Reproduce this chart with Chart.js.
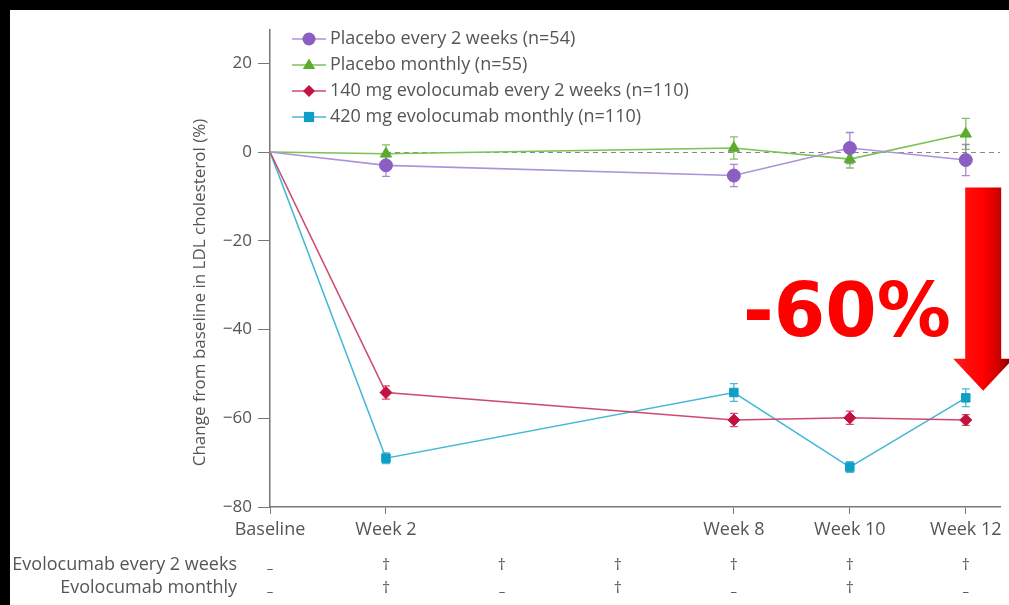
<!DOCTYPE html>
<html><head><meta charset="utf-8">
<script src="https://cdn.jsdelivr.net/npm/chart.js@4/dist/chart.umd.min.js"></script>
<style>
html,body{margin:0;padding:0;background:#000;width:1009px;height:605px;overflow:hidden}
#panel{position:absolute;left:10px;top:10px;width:999px;height:595px;background:#fff}
canvas{display:block}
</style></head><body>
<div id="panel"><canvas id="c" width="999" height="595"></canvas></div>
<script>
// ---- data ----
const weeks = [0, 2, 8, 10, 12];
const xTickLabels = ['Baseline', 'Week 2', 'Week 8', 'Week 10', 'Week 12'];
const yTicks = [20, 0, -20, -40, -60, -80];
const seriesNames = [
  'Placebo every 2 weeks (n=54)',
  'Placebo monthly (n=55)',
  '140 mg evolocumab every 2 weeks (n=110)',
  '420 mg evolocumab monthly (n=110)'
];
const placeboQ2W = [0, -3.0, -5.3, 0.9, -1.8];
const placeboQ2WErr = [0, 2.5, 2.5, 3.5, 3.5];
const placeboMonthly = [0, -0.4, 0.9, -1.6, 4.1];
const placeboMonthlyErr = [0, 2.0, 2.5, 2.0, 3.5];
const evo140Q2W = [0, -54.2, -60.4, -59.9, -60.4];
const evo140Err = [0, 1.5, 1.5, 1.5, 1.2];
const evo420Monthly = [0, -69.0, -54.2, -71.0, -55.4];
const evo420Err = [0, 1.2, 2.0, 1.2, 2.0];
const doseWeeks = [0, 2, 4, 6, 8, 10, 12];
const doseQ2W = ['–', '†', '†', '†', '†', '†', '†'];
const doseMonthly = ['–', '†', '–', '†', '–', '†', '–'];
const doseRowLabels = ['Evolocumab every 2 weeks', 'Evolocumab monthly'];
const yTitle = 'Change from baseline in LDL cholesterol (%)';
const annotationText = '-60%';
const arrowFrom = -8, arrowTo = -53.8;

// ---- styles ----
const FONT = '"Open Sans", "DejaVu Sans", sans-serif';
const TXT = '#555';
const styles = [
  {line: '#ad93d8', mark: '#8b5fc2', shape: 'circle', r: 6.5},
  {line: '#7cc256', mark: '#5aab2e', shape: 'triangle', r: 6.5},
  {line: '#cc4a70', mark: '#c2123f', shape: 'rectRot', r: 6},
  {line: '#45b8d6', mark: '#0f9fc6', shape: 'rect', r: 6}
];
const values = [placeboQ2W, placeboMonthly, evo140Q2W, evo420Monthly];
const errs = [placeboQ2WErr, placeboMonthlyErr, evo140Err, evo420Err];

const datasets = values.map((vals, i) => ({
  label: seriesNames[i],
  data: weeks.map((w, j) => ({x: w, y: vals[j]})),
  borderColor: styles[i].line,
  backgroundColor: styles[i].mark,
  borderWidth: 1.6,
  pointStyle: styles[i].shape,
  pointRadius: weeks.map((w) => w === 0 ? 0 : styles[i].r),
  pointBackgroundColor: styles[i].mark,
  pointBorderColor: styles[i].mark,
  pointBorderWidth: 1,
  tension: 0,
  errors: errs[i]
}));

function drawMarker(ctx, shape, x, y, r, color) {
  ctx.save();
  ctx.fillStyle = color;
  ctx.beginPath();
  if (shape === 'circle') { ctx.arc(x, y, r, 0, Math.PI * 2); }
  else if (shape === 'triangle') { ctx.moveTo(x, y - r); ctx.lineTo(x + r * 0.95, y + r * 0.6); ctx.lineTo(x - r * 0.95, y + r * 0.6); ctx.closePath(); }
  else if (shape === 'rectRot') { ctx.moveTo(x, y - r); ctx.lineTo(x + r, y); ctx.lineTo(x, y + r); ctx.lineTo(x - r, y); ctx.closePath(); }
  else { ctx.rect(x - r * 0.85, y - r * 0.85, r * 1.7, r * 1.7); }
  ctx.fill();
  ctx.restore();
}

const extras = {
  id: 'extras',
  beforeDatasetsDraw(chart) {
    const {ctx, chartArea: a, scales: {x, y}} = chart;
    // dashed zero reference line
    ctx.save();
    ctx.strokeStyle = '#888';
    ctx.lineWidth = 1;
    ctx.setLineDash([5, 4]);
    const y0 = Math.round(y.getPixelForValue(0)) + 0.5;
    ctx.beginPath(); ctx.moveTo(x.getPixelForValue(2), y0); ctx.lineTo(a.right, y0); ctx.stroke();
    ctx.restore();
    // error bars
    chart.data.datasets.forEach((ds) => {
      ctx.save();
      ctx.strokeStyle = ds.pointBackgroundColor;
      ctx.globalAlpha = 0.75;
      ctx.lineWidth = 1.3;
      ds.data.forEach((p, j) => {
        const e = ds.errors[j];
        if (!e) return;
        const px = x.getPixelForValue(p.x);
        const t = y.getPixelForValue(p.y + e), b = y.getPixelForValue(p.y - e);
        ctx.beginPath();
        ctx.moveTo(px, t); ctx.lineTo(px, b);
        ctx.moveTo(px - 4, t); ctx.lineTo(px + 4, t);
        ctx.moveTo(px - 4, b); ctx.lineTo(px + 4, b);
        ctx.stroke();
      });
      ctx.restore();
    });
  },
  afterDraw(chart) {
    const {ctx, chartArea: a, scales: {x, y}} = chart;
    ctx.save();
    // y axis title
    ctx.save();
    ctx.translate(190, (a.top + a.bottom) / 2 + 24);
    ctx.rotate(-Math.PI / 2);
    ctx.fillStyle = TXT;
    ctx.font = '17px ' + FONT;
    ctx.textAlign = 'center';
    ctx.textBaseline = 'middle';
    ctx.fillText(yTitle, 0, 0);
    ctx.restore();
    // legend
    const lx = a.left + 22, ly = a.top + 9, lh = 26;
    chart.data.datasets.forEach((ds, i) => {
      const yy = ly + i * lh;
      ctx.strokeStyle = ds.borderColor;
      ctx.lineWidth = 1.6;
      ctx.beginPath(); ctx.moveTo(lx, yy); ctx.lineTo(lx + 34, yy); ctx.stroke();
      drawMarker(ctx, styles[i].shape, lx + 17, yy, styles[i].r, ds.pointBackgroundColor);
      ctx.fillStyle = TXT;
      ctx.font = '18px ' + FONT;
      ctx.textAlign = 'left';
      ctx.textBaseline = 'middle';
      ctx.fillText(ds.label, lx + 38, yy);
    });
    // dosing rows
    const rows = [doseQ2W, doseMonthly];
    rows.forEach((marks, r) => {
      const yy = 555 + r * 23;
      ctx.fillStyle = TXT;
      ctx.font = '18px ' + FONT;
      ctx.textAlign = 'right';
      ctx.textBaseline = 'middle';
      ctx.fillText(doseRowLabels[r], 227, yy);
      ctx.textAlign = 'center';
      marks.forEach((m, k) => {
        ctx.font = (m === '†' ? '16px ' : '13px ') + FONT;
        ctx.fillText(m, x.getPixelForValue(doseWeeks[k]), m === '†' ? yy : yy + 4);
      });
    });
    // annotation text
    ctx.fillStyle = '#ff0000';
    ctx.font = 'bold 74px "DejaVu Sans", sans-serif';
    ctx.textAlign = 'center';
    ctx.textBaseline = 'alphabetic';
    ctx.fillText(annotationText, 837, 326);
    // arrow
    const cx = x.getPixelForValue(12.3);
    const top = y.getPixelForValue(arrowFrom), tip = y.getPixelForValue(arrowTo);
    const sw = 18, hw = 30, hh = 32;
    const g = ctx.createLinearGradient(cx - hw, 0, cx + hw, 0);
    g.addColorStop(0, '#ff1a1a');
    g.addColorStop(0.5, '#ff0000');
    g.addColorStop(0.75, '#d00000');
    g.addColorStop(1, '#700000');
    ctx.fillStyle = g;
    ctx.beginPath();
    ctx.moveTo(cx - sw, top);
    ctx.lineTo(cx + sw, top);
    ctx.lineTo(cx + sw, tip - hh);
    ctx.lineTo(cx + hw, tip - hh);
    ctx.lineTo(cx, tip);
    ctx.lineTo(cx - hw, tip - hh);
    ctx.lineTo(cx - sw, tip - hh);
    ctx.closePath();
    ctx.fill();
    ctx.restore();
  }
};

new Chart(document.getElementById('c'), {
  type: 'line',
  data: {datasets},
  options: {
    responsive: false,
    devicePixelRatio: 1,
    animation: false,
    layout: {padding: {left: 150, top: 20, right: 9, bottom: 58}},
    plugins: {legend: {display: false}, tooltip: {enabled: false}},
    scales: {
      x: {
        type: 'linear', min: 0, max: 12.59,
        afterBuildTicks: (s) => { s.ticks = weeks.map((v) => ({value: v})); },
        afterFit: (s) => { s.height = 40; s.paddingLeft = 0; s.paddingRight = 0; },
        grid: {drawOnChartArea: false, drawTicks: true, tickLength: 7, color: '#777'},
        border: {display: true, color: '#777', width: 1.5},
        ticks: {color: TXT, font: {family: FONT, size: 18}, padding: 5, maxRotation: 0, autoSkip: false,
          callback: (v, i) => xTickLabels[i]}
      },
      y: {
        type: 'linear', min: -80, max: 27.5,
        afterBuildTicks: (s) => { s.ticks = yTicks.map((v) => ({value: v})); },
        afterFit: (s) => { s.width = 110; },
        grid: {drawOnChartArea: false, drawTicks: true, tickLength: 12, color: '#777'},
        border: {display: true, color: '#777', width: 1.5},
        ticks: {color: TXT, font: {family: FONT, size: 17}, padding: 6,
          callback: (v) => v < 0 ? '−' + Math.abs(v) : String(v)}
      }
    }
  },
  plugins: [extras]
});
</script>
</body></html>
